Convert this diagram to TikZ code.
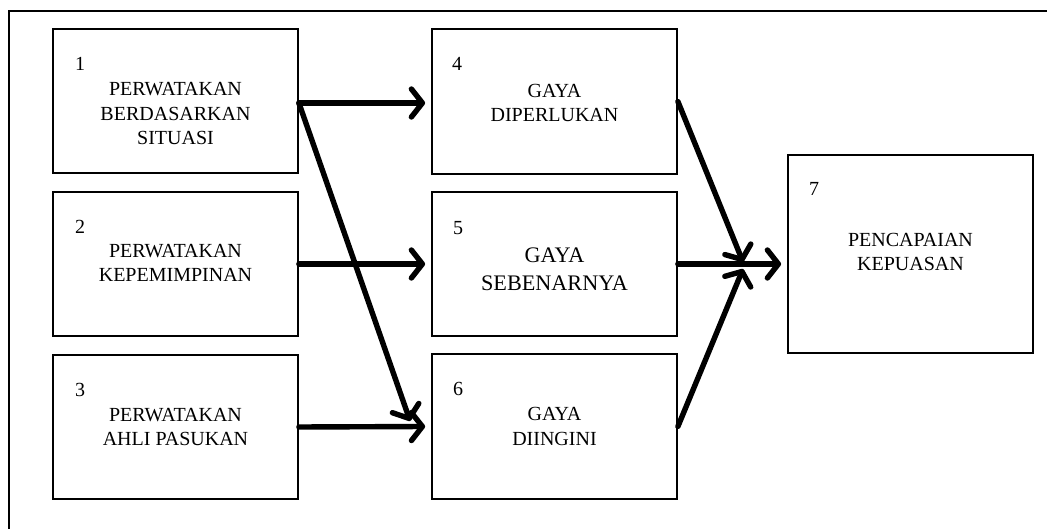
\documentclass[tikz,border=0pt]{standalone}
\usepackage{fontspec}
\setmainfont{Liberation Serif}
\usetikzlibrary{arrows.meta,calc}
\begin{document}
\begin{tikzpicture}[x=1pt,y=-1pt,
  box/.style={draw, line width=1.8pt, rectangle, minimum width=245pt, inner sep=0pt},
  txt/.style={align=center, inner sep=0pt, font=\fontsize{20}{24.5}\selectfont},
  bigtxt/.style={align=center, inner sep=0pt, font=\fontsize{22.2}{27.5}\selectfont},
  num/.style={anchor=west, inner sep=0pt, font=\fontsize{20}{24.5}\selectfont},
  flow/.style={line width=5.4pt, line cap=round, -{Straight Barb[length=11pt,width=28pt,line cap=round,round]}}]
\useasboundingbox (0,0) rectangle (1047,529);
% outer frame (cropped)
\draw[line width=1.6pt] (9,529) -- (9,11) -- (1047,11);
% boxes
\node[box, minimum height=144pt] (b1) at (175.5,101) {};
\node[box, minimum height=144pt] (b2) at (175.5,264) {};
\node[box, minimum height=144pt] (b3) at (175.5,427) {};
\node[box, minimum height=145pt] (b4) at (554.5,101.5) {};
\node[box, minimum height=144pt] (b5) at (554.5,264) {};
\node[box, minimum height=145pt] (b6) at (554.5,426.5) {};
\node[box, minimum height=198pt] (b7) at (910.5,254) {};
% numbers
\node[num] (n1) at (75,63.5) {1};
\node[num] (n2) at (75,226.5) {2};
\node[num] (n3) at (75,389.5) {3};
\node[num] (n4) at (452,63.5) {4};
\node[num] (n5) at (453,228) {5};
\node[num] (n6) at (453,389) {6};
\node[num] (n7) at (809,189) {7};
% texts
\node[txt] (t1) at (175.5,113.5) {PERWATAKAN\\BERDASARKAN\\SITUASI};
\node[txt] (t2) at (175.5,263) {PERWATAKAN\\KEPEMIMPINAN};
\node[txt] (t3) at (175.5,427) {PERWATAKAN\\AHLI PASUKAN};
\node[txt] (t4) at (554.5,103) {GAYA\\DIPERLUKAN};
\node[bigtxt] (t5) at (554.5,269.5) {GAYA\\SEBENARNYA};
\node[txt] (t6) at (554.5,426.5) {GAYA\\DIINGINI};
\node[txt] (t7) at (910.5,252) {PENCAPAIAN\\KEPUASAN};
% merge point
\coordinate (m) at (743,264);
% connectors
\draw[flow] ([yshift=-2pt]b1.east) -- ([xshift=-6pt,yshift=-1.5pt]b4.west);
\draw[flow] ([yshift=-2pt]b1.east) -- ([xshift=-21pt,yshift=5.5pt]b6.west);
\draw[flow] (b2.east) -- ([xshift=-6pt]b5.west);
\draw[flow] (b3.east) -- ([xshift=-6pt]b6.west);
\draw[flow] (b4.east) -- ([yshift=2pt]m);
\draw[flow] (b6.east) -- ([yshift=-5pt]m);
\draw[flow] (b5.east) -- ($(b7.west |- b5.east)+(-6,0)$);
\end{tikzpicture}
\end{document}
